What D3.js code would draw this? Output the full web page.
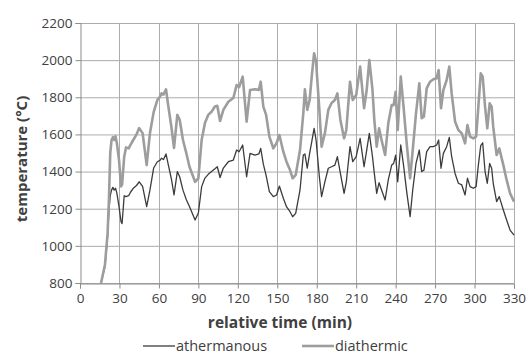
<!DOCTYPE html>
<html>
<head>
<meta charset="utf-8">
<script src="https://cdn.jsdelivr.net/npm/d3@7"></script>
<style>
  body { margin: 0; background: #fff; }
  svg text { font-family: "Open Sans", "Noto Sans", sans-serif; fill: #404040; }
</style>
</head>
<body>
<div class="chart"></div>
<script>
// relative time (min)
const minutes = [16, 19, 21, 22, 23, 24, 25, 26, 27, 28, 29.7, 31.2, 32, 33.6, 35, 37, 38.5, 40.5, 43, 45,
  47.6, 50.7, 53.2, 56, 58.8, 60.8, 62, 63.5, 65.4, 67.2, 69.5, 71.5, 74, 75.8, 78.3, 80.8, 83.3, 87.5, 90, 92.5,
  95, 97.5, 100, 102.6, 104.4, 106.5, 109, 112.8, 116.6, 119.1, 121, 123.7, 126.7, 129.3, 133, 136, 137.4, 139.4, 141.5, 144,
  147, 149.5, 151.6, 154.6, 157, 159.7, 161.7, 164, 167.3, 169.8, 171, 172.8, 174.6, 176.2, 178, 179.5, 182, 183.7, 186.2, 188.8,
  191.3, 193.8, 195.7, 198, 200.8, 202.5, 205.3, 207.4, 210, 213, 216, 218, 220, 222.4, 223.8, 225.6, 227.4, 229.3, 232, 234.4,
  237, 238.5, 240, 241.6, 243.9, 246, 248.4, 251, 253, 255.5, 258, 259.8, 261.5, 263.6, 266.2, 268.7, 271.2, 272.7, 274.5, 276.3,
  278.8, 280.8, 282.6, 285.2, 287.7, 290.3, 292.8, 294.6, 296.6, 299, 301.2, 302.9, 304.7, 306.2, 308, 309.7, 311.5, 313, 314.2, 316.8,
  318.8, 321.9, 324.4, 327, 330];

const athermanous = [800, 890, 1050, 1190, 1270, 1300, 1315, 1300, 1310, 1285, 1210, 1130, 1120, 1270, 1265, 1270, 1290, 1310, 1325, 1345,
  1320, 1211, 1301, 1419, 1453, 1460, 1472, 1465, 1495, 1435, 1360, 1274, 1400, 1372, 1300, 1250, 1211, 1139, 1177, 1319,
  1365, 1385, 1400, 1415, 1426, 1368, 1419, 1453, 1462, 1516, 1507, 1543, 1372, 1498, 1489, 1495, 1525, 1440, 1380, 1292,
  1265, 1274, 1322, 1256, 1211, 1184, 1157, 1175, 1301, 1489, 1495, 1418, 1498, 1560, 1633, 1570, 1372, 1265, 1345, 1418,
  1426, 1435, 1480, 1390, 1283, 1345, 1534, 1453, 1480, 1579, 1426, 1516, 1606, 1480, 1390, 1283, 1340, 1301, 1247, 1355,
  1435, 1444, 1489, 1345, 1543, 1435, 1292, 1157, 1301, 1444, 1516, 1400, 1408, 1507, 1534, 1534, 1543, 1570, 1418, 1498,
  1534, 1584, 1480, 1390, 1337, 1328, 1274, 1364, 1319, 1310, 1319, 1435, 1540, 1555, 1400, 1337, 1444, 1418, 1337, 1238,
  1265, 1193, 1139, 1085, 1058];

const diathermic = [800, 900, 1070, 1250, 1500, 1570, 1585, 1570, 1590, 1555, 1460, 1320, 1330, 1480, 1530, 1525, 1545, 1570, 1600, 1634,
  1607, 1435, 1608, 1720, 1785, 1803, 1821, 1815, 1843, 1750, 1640, 1527, 1705, 1679, 1570, 1500, 1425, 1345, 1363, 1570,
  1661, 1705, 1722, 1750, 1754, 1672, 1732, 1776, 1796, 1866, 1855, 1911, 1669, 1839, 1843, 1840, 1884, 1750, 1705, 1588,
  1525, 1554, 1597, 1507, 1453, 1408, 1364, 1382, 1516, 1714, 1843, 1732, 1785, 1911, 2037, 1992, 1732, 1534, 1606, 1732,
  1769, 1785, 1821, 1678, 1579, 1624, 1884, 1785, 1812, 1965, 1741, 1839, 2001, 1839, 1678, 1534, 1633, 1570, 1489, 1660,
  1758, 1758, 1830, 1624, 1911, 1750, 1552, 1364, 1516, 1714, 1875, 1687, 1696, 1848, 1884, 1897, 1902, 1947, 1741, 1839,
  1893, 1965, 1821, 1669, 1624, 1606, 1552, 1651, 1588, 1579, 1588, 1750, 1929, 1911, 1750, 1633, 1767, 1750, 1642, 1489,
  1525, 1435, 1355, 1283, 1238];

const xTicks = [0, 30, 60, 90, 120, 150, 180, 210, 240, 270, 300, 330];
const yTicks = [800, 1000, 1200, 1400, 1600, 1800, 2000, 2200];
const seriesNames = ['athermanous', 'diathermic'];

const width = 529, height = 354;
const mLeft = 80, mRight = 514, mTop = 23, mBottom = 283;
const gridColor = '#acacac';
const colors = ['#3c3c3c', '#9d9d9d'];
const strokes = [1.3, 2.6];

const svg = d3.select('.chart').append('svg').attr('width', width).attr('height', height);

const x = d3.scaleLinear().domain([0, 330]).range([mLeft, mRight]);
const y = d3.scaleLinear().domain([800, 2200]).range([mBottom, mTop]);

// grid
svg.append('g').selectAll('line')
  .data(yTicks)
  .join('line')
  .attr('x1', mLeft).attr('x2', mRight)
  .attr('y1', d => y(d) + 0.5).attr('y2', d => y(d) + 0.5)
  .attr('stroke', gridColor).attr('stroke-width', 1);

svg.append('g').selectAll('line')
  .data(xTicks.slice(1))
  .join('line')
  .attr('x1', d => Math.round(x(d)) + 0.5).attr('x2', d => Math.round(x(d)) + 0.5)
  .attr('y1', mTop).attr('y2', mBottom)
  .attr('stroke', gridColor).attr('stroke-width', 1);

// axes
const xAxis = d3.axisBottom(x).tickValues(xTicks).tickFormat(d3.format('d')).tickSize(5).tickPadding(3);
const yAxis = d3.axisLeft(y).tickValues(yTicks).tickFormat(d3.format('d')).tickSize(5).tickPadding(3);

const gx = svg.append('g').attr('transform', `translate(0,${mBottom + 0.5})`).call(xAxis);
const gy = svg.append('g').attr('transform', `translate(${mLeft + 0.5},0)`).call(yAxis);

[gx, gy].forEach(g => {
  g.select('.domain').attr('stroke', '#8c8c8c');
  g.selectAll('.tick line').attr('stroke', '#8c8c8c');
  g.selectAll('.tick text').style('font-size', '13.5px').attr('fill', '#4a4a4a');
});
gx.selectAll('.tick text').attr('dy', '0.85em');

// lines
const line = d3.line()
  .x((d, i) => x(minutes[i]))
  .y(d => y(d));

[athermanous, diathermic].forEach((vals, k) => {
  svg.append('path')
    .datum(vals)
    .attr('d', line)
    .attr('fill', 'none')
    .attr('stroke', colors[k])
    .attr('stroke-width', strokes[k])
    .attr('stroke-linejoin', 'round');
});

// titles
svg.append('text')
  .attr('x', 280).attr('y', 328)
  .attr('text-anchor', 'middle')
  .style('font-size', '15.5px').style('font-weight', 'bold')
  .text('relative time (min)');

svg.append('text')
  .attr('transform', 'translate(27,159) rotate(-90)')
  .attr('text-anchor', 'middle')
  .style('font-size', '15px').style('font-weight', 'bold')
  .text('temperature (°C)');

// legend
const legendX = [143, 302];
const lg = svg.append('g');
seriesNames.forEach((name, k) => {
  lg.append('line')
    .attr('x1', legendX[k]).attr('x2', legendX[k] + 32)
    .attr('y1', 346).attr('y2', 346)
    .attr('stroke', colors[k]).attr('stroke-width', strokes[k]);
  lg.append('text')
    .attr('x', legendX[k] + 33).attr('y', 351)
    .style('font-size', '14.5px')
    .text(name);
});
</script>
</body>
</html>
